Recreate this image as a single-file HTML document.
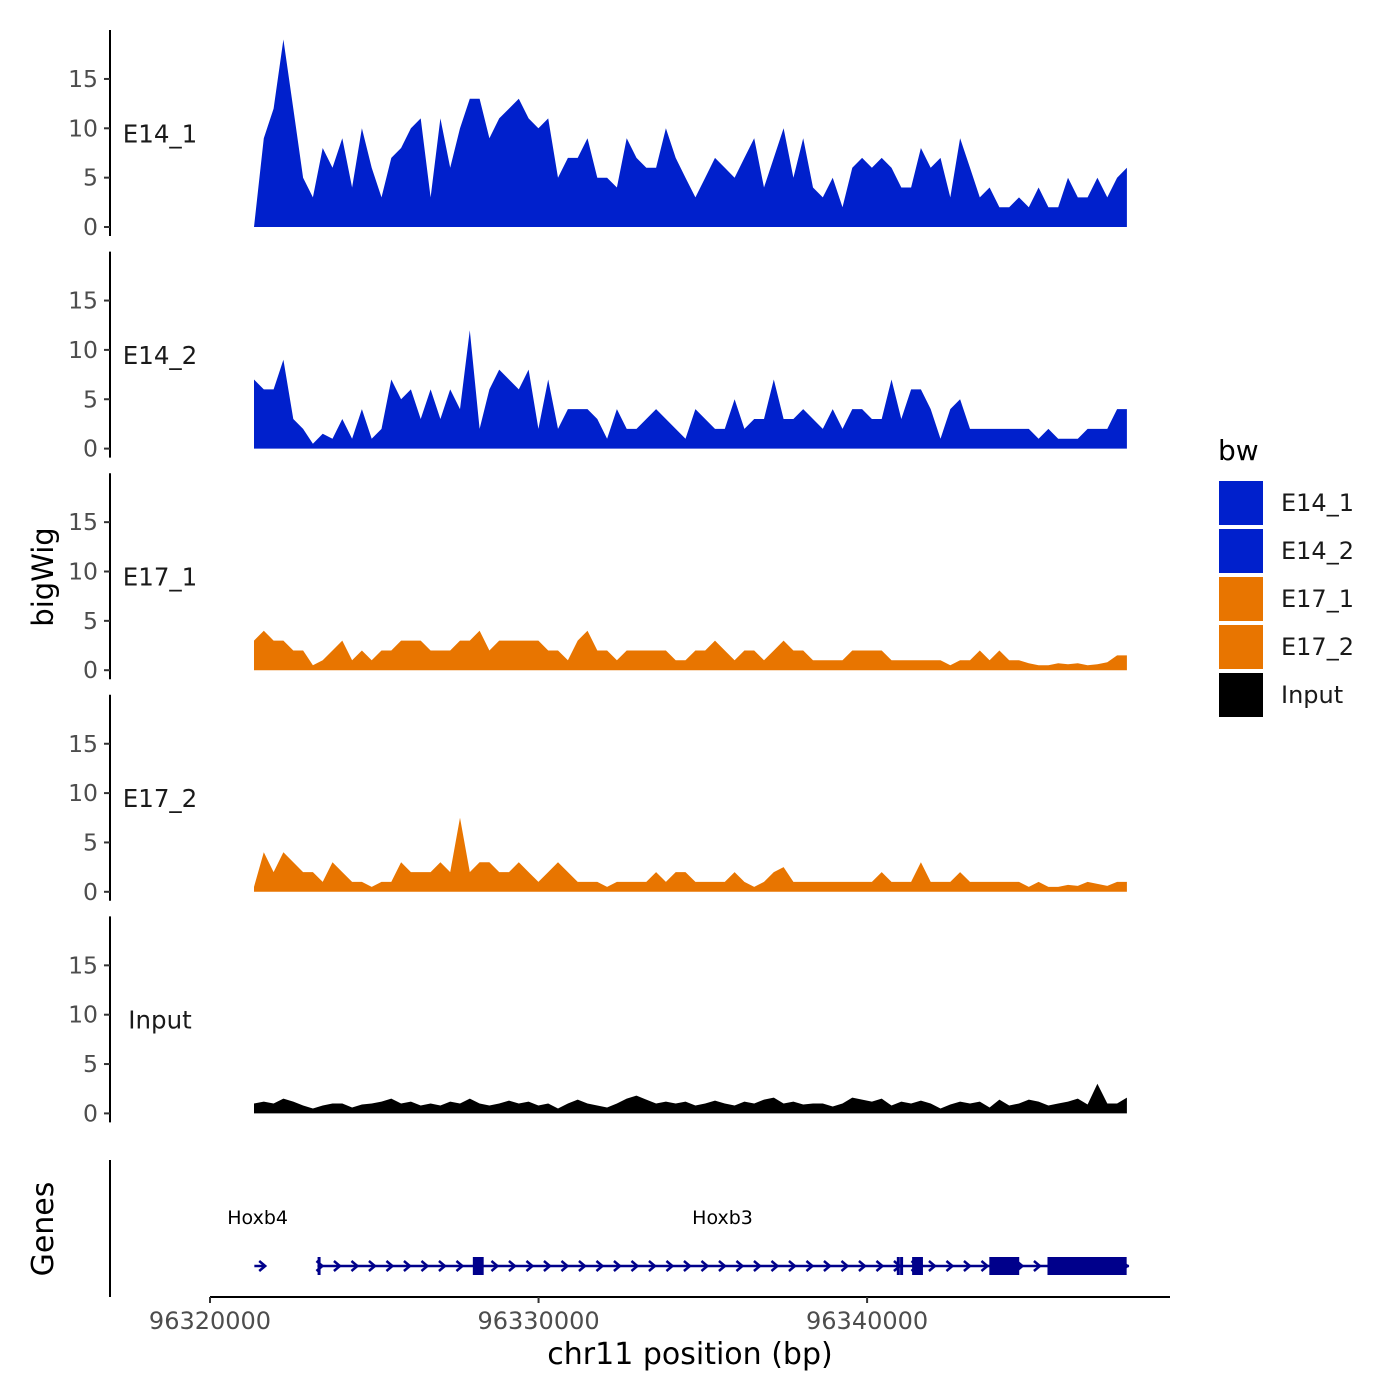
<!DOCTYPE html>
<html><head><meta charset="utf-8"><style>
html,body{margin:0;padding:0;background:#fff}
svg{display:block;font-family:"DejaVu Sans","Liberation Sans",sans-serif}
</style></head><body>
<svg id="chart" width="1400" height="1400" viewBox="0 0 1400 1400"></svg>
<script>
// ---- data ----
const startBp = 96321340;
const binBp = 298.5;
const trackNames = ["E14_1","E14_2","E17_1","E17_2","Input"];
const trackColors = ["#0020CC","#0020CC","#E87500","#E87500","#000000"];
const e14_1 = [0,9,12,19,12,5,3,8,6,9,4,10,6,3,7,8,10,11,3,11,6,10,13,13,9,11,12,13,11,10,11,5,7,7,9,5,5,4,9,7,6,6,10,7,5,3,5,7,6,5,7,9,4,7,10,5,9,4,3,5,2,6,7,6,7,6,4,4,8,6,7,3,9,6,3,4,2,2,3,2,4,2,2,5,3,3,5,3,5,6];
const e14_2 = [7,6,6,9,3,2,0.5,1.5,1,3,1,4,1,2,7,5,6,3,6,3,6,4,12,2,6,8,7,6,8,2,7,2,4,4,4,3,1,4,2,2,3,4,3,2,1,4,3,2,2,5,2,3,3,7,3,3,4,3,2,4,2,4,4,3,3,7,3,6,6,4,1,4,5,2,2,2,2,2,2,2,1,2,1,1,1,2,2,2,4,4];
const e17_1 = [3,4,3,3,2,2,0.5,1,2,3,1,2,1,2,2,3,3,3,2,2,2,3,3,4,2,3,3,3,3,3,2,2,1,3,4,2,2,1,2,2,2,2,2,1,1,2,2,3,2,1,2,2,1,2,3,2,2,1,1,1,1,2,2,2,2,1,1,1,1,1,1,0.5,1,1,2,1,2,1,1,0.7,0.5,0.5,0.7,0.6,0.7,0.5,0.6,0.8,1.5,1.5];
const e17_2 = [0.5,4,2,4,3,2,2,1,3,2,1,1,0.5,1,1,3,2,2,2,3,2,7.5,2,3,3,2,2,3,2,1,2,3,2,1,1,1,0.5,1,1,1,1,2,1,2,2,1,1,1,1,2,1,0.5,1,2,2.5,1,1,1,1,1,1,1,1,1,2,1,1,1,3,1,1,1,2,1,1,1,1,1,1,0.5,1,0.5,0.5,0.7,0.6,1,0.8,0.6,1,1];
const input = [1,1.2,1,1.5,1.2,0.8,0.5,0.8,1,1,0.6,0.9,1,1.2,1.5,1,1.2,0.8,1,0.8,1.2,1,1.5,1,0.8,1,1.3,1,1.2,0.8,1,0.5,1,1.4,1,0.8,0.6,1,1.5,1.8,1.4,1,1.2,1,1.2,0.8,1,1.3,1,0.8,1.2,1,1.4,1.6,1,1.2,0.9,1,1,0.7,1,1.6,1.4,1.2,1.5,0.8,1.2,1,1.3,1,0.5,0.9,1.2,1,1.2,0.6,1.4,0.8,1,1.4,1.2,0.8,1,1.2,1.5,0.9,3,1,1,1.6];
const trackData = [e14_1,e14_2,e17_1,e17_2,input];
const yTicks = [0,5,10,15];
const xTicks = [96320000,96330000,96340000];
const xTickLabels = ["96320000","96330000","96340000"];
// gene model (bp)
const geneNames = ["Hoxb4","Hoxb3"];
const geneLabelPos = [96321450, 96335600];
const hoxb4Start = 96321350, hoxb4End = 96321650;
const hoxb3Start = 96323270, hoxb3End = 96347970;
const exonStarts = [96328000, 96341370, 96343720, 96345490];
const exonEnds   = [96328330, 96341700, 96344630, 96347900];
const tickExons = [96323320, 96340950, 96341050];

// ---- scales ----
const NS="http://www.w3.org/2000/svg";
const svg=document.getElementById('chart');
const x = bp => 210 + (bp-96320000)*0.032855;
const panelBase = k => 227 + k*221.6;
const yv = (k,v) => panelBase(k) - v*9.87;
function mk(tag,attrs,parent){const e=document.createElementNS(NS,tag);for(const a in attrs)e.setAttribute(a,attrs[a]);(parent||svg).appendChild(e);return e;}

// tracks
trackData.forEach((vals,k)=>{
  const g=mk('g',{});
  
  
  const ax=mk('line',{x1:110,x2:110,y1:30+k*221.6,y2:236+k*221.6,stroke:'#000','stroke-width':2},g);
  
  
  yTicks.forEach(t=>{
    mk('line',{x1:104,x2:110,y1:yv(k,t),y2:yv(k,t),stroke:'#333','stroke-width':2},g);
    const tl=mk('text',{x:98,y:yv(k,t)+8,'text-anchor':'end','font-size':23.5,fill:'#4d4d4d'},g);
    tl.textContent=t;
    
    
  });
  const lab=mk('text',{x:160,y:yv(k,10)+14,'text-anchor':'middle','font-size':24.5,fill:'#1a1a1a'},g);
  lab.textContent=trackNames[k];
  
  
  let d='M'+x(startBp).toFixed(1)+','+panelBase(k);
  vals.forEach((v,i)=>{d+=' L'+x(startBp+i*binBp).toFixed(1)+','+yv(k,v).toFixed(1);});
  d+=' L'+x(startBp+(vals.length-1)*binBp).toFixed(1)+','+panelBase(k)+' Z';
  const a=mk('path',{d:d,fill:trackColors[k]},g);
  
  
});

// genes panel
const gg=mk('g',{});


mk('line',{x1:110,x2:110,y1:1160,y2:1297,stroke:'#000','stroke-width':2},gg);
const gy=1266, blue='#00008B';
geneNames.forEach((n,i)=>{
  const t=mk('text',{x:x(geneLabelPos[i]),y:1224,'text-anchor':'middle','font-size':19,fill:'#000'},gg);
  t.textContent=n;
  
  
});
function chev(cx){mk('polyline',{points:(cx-3)+','+(gy-5)+' '+(cx+3)+','+gy+' '+(cx-3)+','+(gy+5),fill:'none',stroke:blue,'stroke-width':2.5},gg);}
mk('line',{x1:x(hoxb4Start),x2:x(hoxb4End),y1:gy,y2:gy,stroke:blue,'stroke-width':2.5},gg);
chev(x(hoxb4End)-2);
mk('line',{x1:x(hoxb3Start),x2:x(hoxb3End),y1:gy,y2:gy,stroke:blue,'stroke-width':2.5},gg);
for(let cx=x(hoxb3Start)+2;cx<x(hoxb3End);cx+=17.5)chev(cx);
tickExons.forEach(b=>mk('rect',{x:x(b)-1.5,y:gy-9,width:3,height:18,fill:blue},gg));
exonStarts.forEach((s,i)=>{
  const r=mk('rect',{x:x(s),y:gy-9,width:x(exonEnds[i])-x(s),height:18,fill:blue},gg);
  
  
});

// x axis
const xa=mk('g',{});


mk('line',{x1:210,x2:1170,y1:1297,y2:1297,stroke:'#000','stroke-width':2},xa);
xTicks.forEach((t,i)=>{
  mk('line',{x1:x(t),x2:x(t),y1:1297,y2:1303,stroke:'#333','stroke-width':2},xa);
  const tl=mk('text',{x:x(t),y:1329,'text-anchor':'middle','font-size':24,fill:'#4d4d4d'},xa);
  tl.textContent=xTickLabels[i];
  
  
});
</script>
<div style="position:absolute;left:0;top:0;width:1400px;height:1400px;pointer-events:none">
<svg width="1400" height="1400" style="font-family:'DejaVu Sans','Liberation Sans',sans-serif">
<text x="690" y="1364" text-anchor="middle" font-size="30" fill="#000">chr11 position (bp)</text>
<text transform="translate(53,577) rotate(-90)" text-anchor="middle" font-size="29" fill="#000">bigWig</text>
<text transform="translate(53,1229) rotate(-90)" text-anchor="middle" font-size="30" fill="#000">Genes</text>
<g>
<text x="1218" y="460" font-size="28" fill="#000">bw</text>
<rect x="1219" y="481" width="44" height="44" fill="#0020CC"/>
<rect x="1219" y="529" width="44" height="44" fill="#0020CC"/>
<rect x="1219" y="577" width="44" height="44" fill="#E87500"/>
<rect x="1219" y="625" width="44" height="44" fill="#E87500"/>
<rect x="1219" y="673" width="44" height="44" fill="#000"/>
<text x="1281" y="511" font-size="24" fill="#1a1a1a">E14_1</text>
<text x="1281" y="559" font-size="24" fill="#1a1a1a">E14_2</text>
<text x="1281" y="607" font-size="24" fill="#1a1a1a">E17_1</text>
<text x="1281" y="655" font-size="24" fill="#1a1a1a">E17_2</text>
<text x="1281" y="703" font-size="24" fill="#1a1a1a">Input</text>
</g>
</svg></div>
</body></html>
